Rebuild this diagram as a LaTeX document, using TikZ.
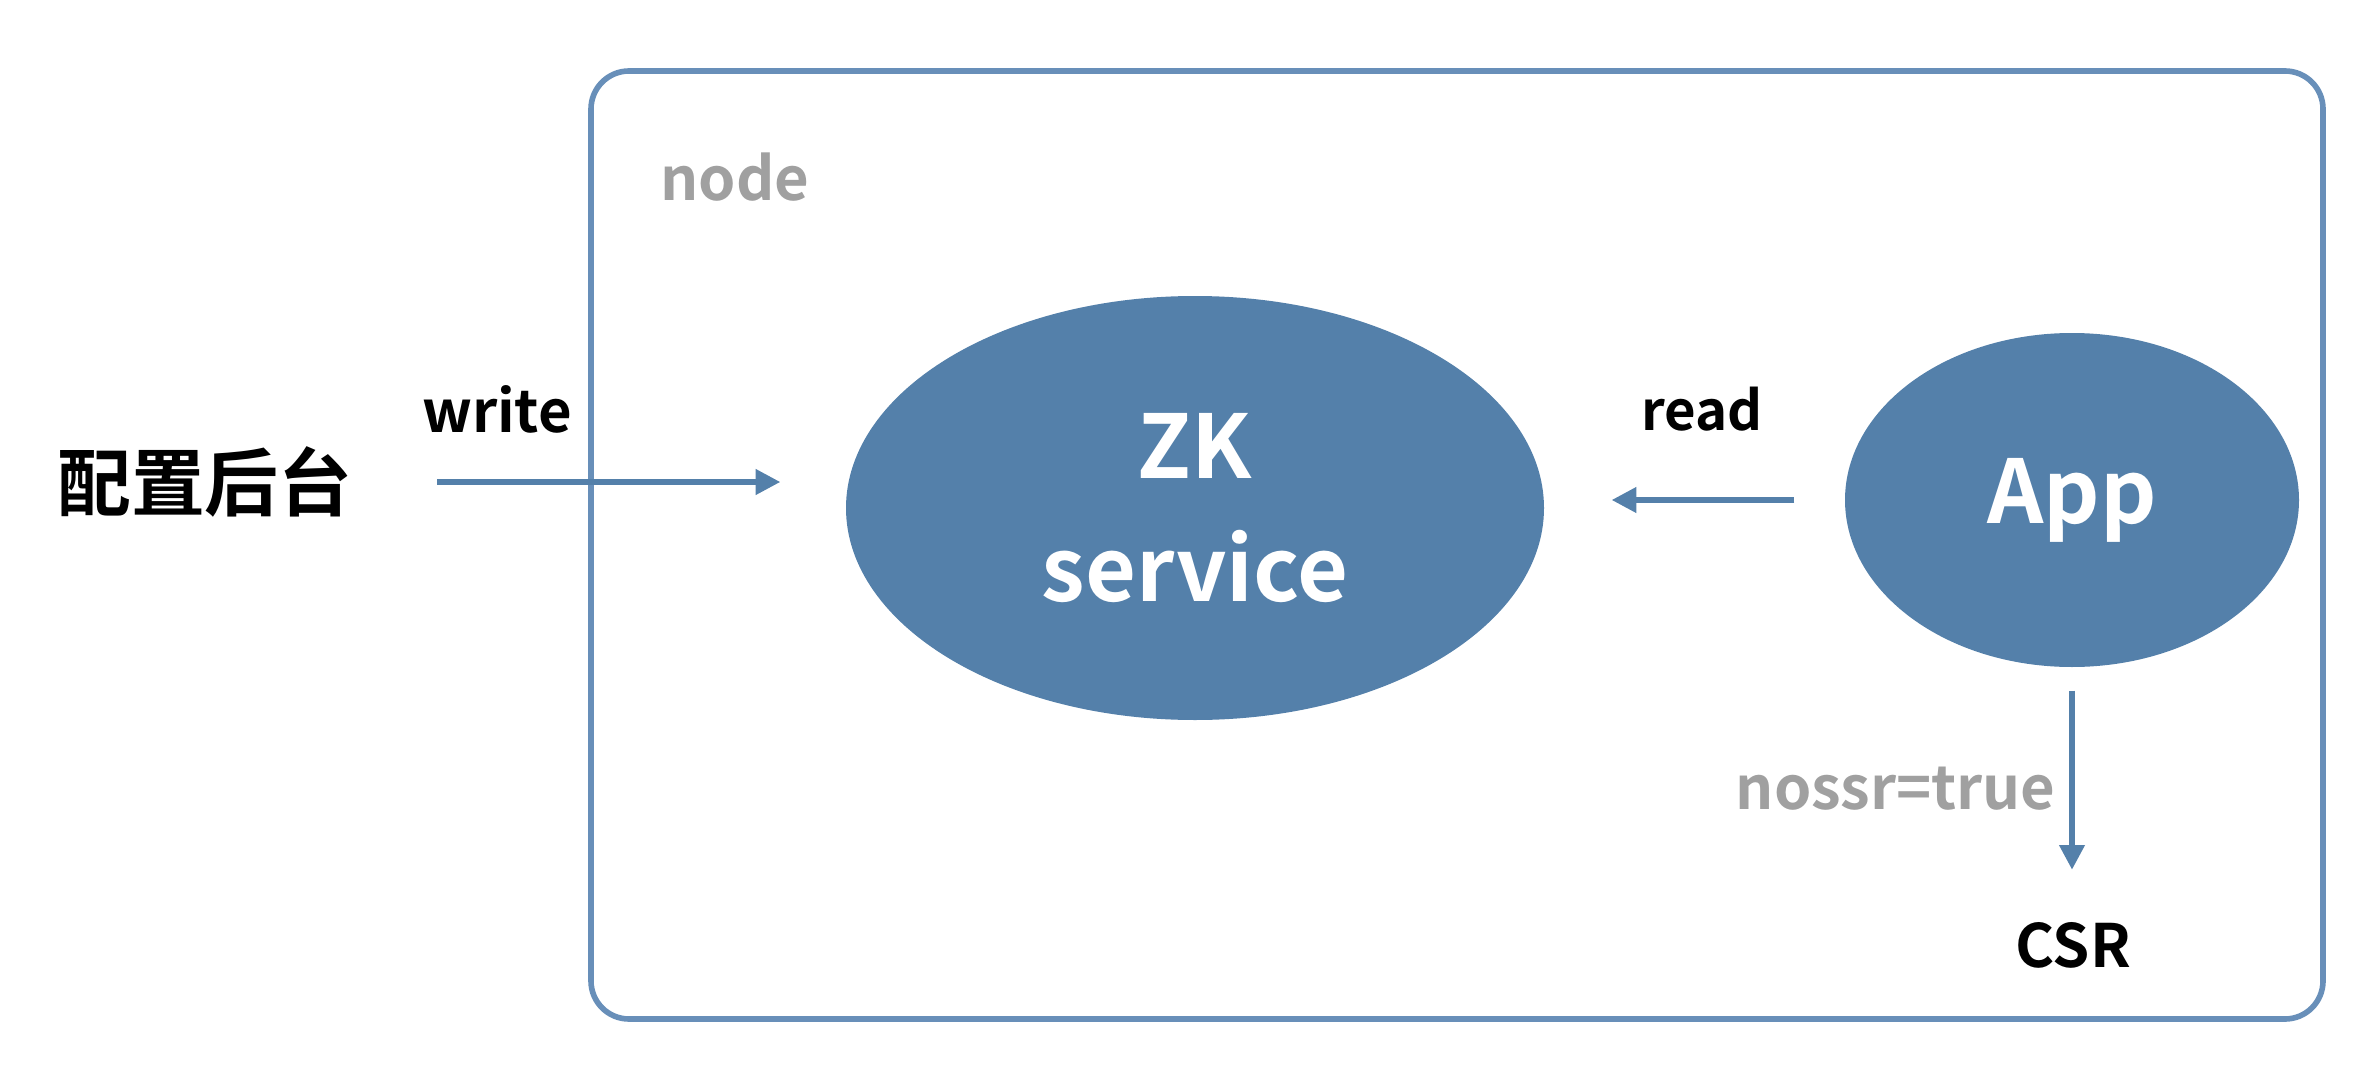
\documentclass[tikz,border=0pt]{standalone}
\usepackage{fontspec}
\setmainfont{Noto Sans CJK SC}[BoldFont={* Bold}]
\usepackage{tikz}
\usetikzlibrary{arrows.meta,positioning,shapes.geometric}
\definecolor{zkblue}{RGB}{84,128,170}
\definecolor{frameblue}{RGB}{104,143,185}
\definecolor{labelgray}{RGB}{160,160,160}
\tikzset{
    >={Triangle[length=7pt,width=7pt]},
    blob/.style={
        ellipse,
        fill=zkblue,
        draw=none,
        inner sep=0pt,
        text=white,
        align=center,
        font={\fontsize{25pt}{35pt}\selectfont\bfseries}
    },
    frame/.style={draw=frameblue, line width=1.6pt, rounded corners=0.38cm},
    line/.style={draw=zkblue, line width=1.5pt, ->},
    tag/.style={font={\fontsize{16.5pt}{20pt}\selectfont\bfseries}},
    greytag/.style={tag, text=labelgray},
}
\begin{document}
\begin{tikzpicture}
\useasboundingbox (0,0) rectangle (23.78,10.9);
% node frame
\draw[frame] (5.91,0.71) rectangle (23.23,10.19);
\node[greytag, font={\fontsize{17pt}{20pt}\selectfont\bfseries}] (nodelbl) at (7.35,9.13) {node};
% participants
\node[font={\fontsize{21pt}{26pt}\selectfont\bfseries}] (cfg) at (2.05,6.08) {配置后台};
\node[blob, minimum width=6.98cm, minimum height=4.24cm] (zk) at (11.95,5.82) {ZK\\service};
\node[blob, minimum width=4.54cm, minimum height=3.34cm] (app) at (20.72,5.90) {App};
\node[tag, font={\fontsize{17pt}{22pt}\selectfont\bfseries}] (csr) at (20.73,1.45) {CSR};
% connectors
\draw[line, shorten <=0.72cm, shorten >=0.65cm] (cfg.east) -- (cfg.east -| zk.west);
\node[tag] (writelbl) at (4.97,6.81) {write};
\draw[line, shorten <=0.5cm, shorten >=0.67cm] (app.west) -- (app.west -| zk.east);
\node[tag, font={\fontsize{15.5pt}{20pt}\selectfont\bfseries}] (readlbl) at (17.02,6.81) {read};
\draw[line, shorten <=0.23cm, shorten >=0.4cm] (app.south) -- (app.south |- csr.north);
\node[greytag, font={\fontsize{17pt}{20pt}\selectfont\bfseries}, anchor=east] (nossr) at (20.68,3.01) {nossr=true};
\end{tikzpicture}
\end{document}
